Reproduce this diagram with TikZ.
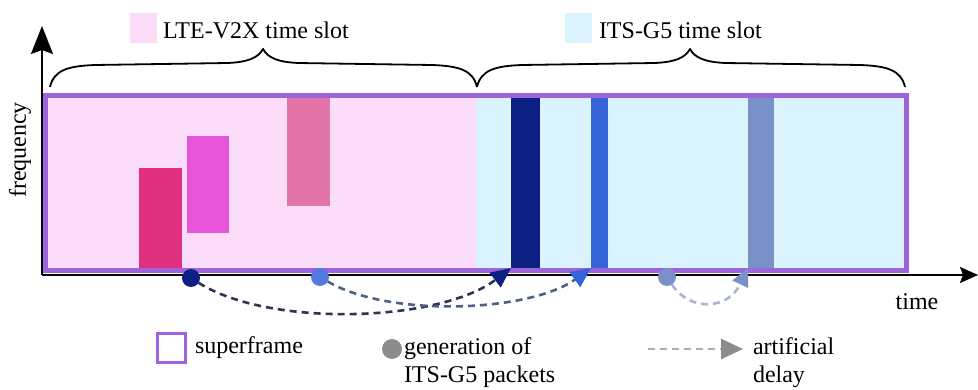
\documentclass[tikz,border=0pt]{standalone}
\usepackage{fontspec}
\setmainfont{Liberation Serif}
\usetikzlibrary{arrows.meta}
\definecolor{pinkbg}{HTML}{FCDDF9}
\definecolor{bluebg}{HTML}{DAF3FC}
\definecolor{sfpurple}{HTML}{9D64DC}
\definecolor{barA}{HTML}{E03080}
\definecolor{barB}{HTML}{E855D8}
\definecolor{barC}{HTML}{E274A8}
\definecolor{navy}{HTML}{0D2185}
\definecolor{midblue}{HTML}{3563D8}
\definecolor{grayblue}{HTML}{7A90C8}
\definecolor{dashA}{HTML}{2D3550}
\definecolor{dashB}{HTML}{4F6088}
\definecolor{dashC}{HTML}{A8B4D8}
\definecolor{legendgray}{HTML}{8C8C8C}
\begin{document}
\begin{tikzpicture}[x=1pt,y=-1pt,
  lbl/.style={font=\fontsize{24}{28}\selectfont, inner sep=0pt, outer sep=0pt},
  barbox/.style={draw=none, inner sep=0pt, outer sep=0pt, anchor=south west},
  dot/.style={circle, draw=none, inner sep=0pt, outer sep=0pt, minimum size=18pt},
  delay/.style={line width=2.6pt, dash pattern=on 7pt off 5pt},
  brc/.style={line width=1.8pt, line join=round}]
\useasboundingbox (0,0) rectangle (978,390);

% slot backgrounds
\fill[pinkbg] (45,96) rectangle (476,271);
\fill[bluebg] (476,96) rectangle (906,271);

% axes
\coordinate (o) at (42,275);
\coordinate (ytop) at (42,26);
\coordinate (xend) at (978,275);
\draw[line width=2pt, -{Stealth[length=28pt,width=22pt,inset=4pt]}] (o) -- (ytop);
\draw[line width=2pt, -{Stealth[length=18pt,width=16pt,inset=3pt]}] (o) -- (xend);

% LTE-V2X bars
\node[barbox, fill=barA, minimum width=43pt, minimum height=100pt] (b1) at (139,268) {};
\node[barbox, fill=barB, minimum width=42pt, minimum height=97pt] (b2) at (187,233) {};
\node[barbox, fill=barC, minimum width=43pt, minimum height=108pt] (b3) at (287,206) {};
% ITS-G5 bars
\node[barbox, fill=navy, minimum width=29pt, minimum height=170pt] (g1) at (511,268) {};
\node[barbox, fill=midblue, minimum width=17pt, minimum height=170pt] (g2) at (591,268) {};
\node[barbox, fill=grayblue, minimum width=26pt, minimum height=170pt] (g3) at (748,268) {};

% superframe border
\draw[sfpurple, line width=5pt] (45,96) rectangle (906,271);

% generation dots
\node[dot, fill=navy] (d1) at (191,278) {};
\node[dot, fill=midblue!85] (d2) at (320,277) {};
\node[dot, fill=grayblue] (d3) at (667,277) {};

% artificial delays
\draw[delay, dashA, -{Triangle[length=20pt,width=18pt,color=navy]}] (d1) .. controls (270,328) and (440,322) .. (g1.south west);
\draw[delay, dashB, -{Triangle[length=20pt,width=18pt,color=midblue]}] (d2) .. controls (390,318) and (530,312) .. (g2.south west);
\draw[delay, dashC, -{Triangle[length=18pt,width=17pt,color=grayblue]}] (d3) .. controls (690,312) and (728,310) .. (g3.south west);

% braces
\draw[brc] (50,87) .. controls (54,70) and (68,66) .. (95,65) -- (228,63) .. controls (248,62) and (258,58) .. (263,49)
  .. controls (268,58) and (278,62) .. (298,63) -- (432,65) .. controls (459,66) and (473,70) .. (477,87);
\draw[brc] (477,87) .. controls (481,70) and (495,66) .. (522,65) -- (655,63) .. controls (675,62) and (685,58) .. (690,49)
  .. controls (695,58) and (705,62) .. (725,63) -- (860,65) .. controls (887,66) and (901,70) .. (905,87);

% slot labels
\node[fill=pinkbg, minimum width=27pt, minimum height=30pt, inner sep=0pt] (ksq1) at (143.5,28) {};
\node[lbl, anchor=west] (t1) at (163,30) {LTE-V2X time slot};
\node[fill=bluebg, minimum width=27pt, minimum height=30pt, inner sep=0pt] (ksq2) at (578.5,28) {};
\node[lbl, anchor=west] (t2) at (599,30) {ITS-G5 time slot};

% axis labels
\node[lbl, rotate=90] (fq) at (20,150) {frequency};
\node[lbl] (tm) at (917,302) {time};

% legend
\node[draw=sfpurple, line width=3pt, fill=white, minimum width=28pt, minimum height=29pt, inner sep=0pt] (lsq) at (171,348) {};
\node[lbl, anchor=west] (lsf) at (195,348) {superframe};
\node[dot, fill=legendgray, minimum size=20pt] (ldot) at (392,349) {};
\node[lbl, anchor=base west] (lg1) at (404,355) {generation of};
\node[lbl, anchor=base west] (lg2) at (404,382) {ITS-G5 packets};
\coordinate (la) at (648,349);
\coordinate (lb) at (743,349);
\draw[delay, legendgray!70, line width=2.8pt, -{Triangle[length=22pt,width=20pt,color=legendgray]}] (la) -- (lb);
\node[lbl, anchor=base west] (ld1) at (753,355) {artificial};
\node[lbl, anchor=base west] (ld2) at (753,382) {delay};
\end{tikzpicture}
\end{document}
